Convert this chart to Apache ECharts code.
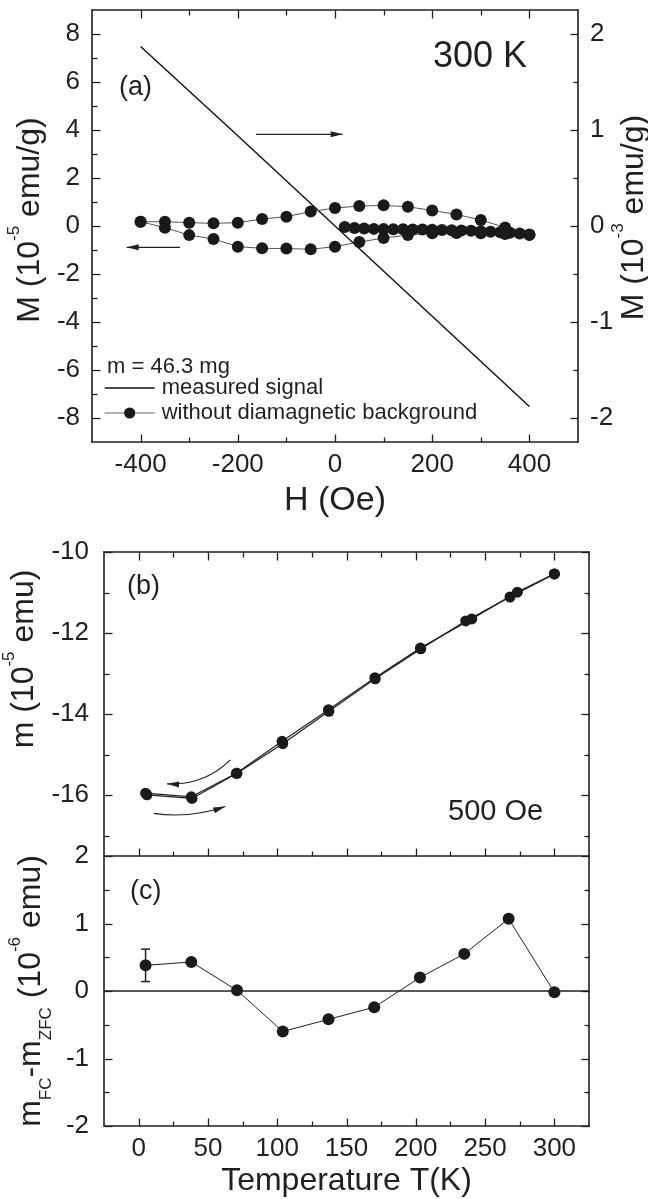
<!DOCTYPE html>
<html><head><meta charset="utf-8">
<script src="https://cdn.jsdelivr.net/npm/echarts@6/dist/echarts.min.js"></script>
<style>html,body{margin:0;padding:0;background:#fff}#c{width:648px;height:1199px}</style>
</head><body><div id="c"></div>
<script>
// ================= DATA =================
// Panel (a) : 300 K loop
const hMeasured = [-400, -200, 0, 200, 400];
const mMeasured = [1.87, 0.94, 0.0, -0.94, -1.88];            // 10^-3 emu/g (right axis)
const hVirgin = [20, 40, 60, 80, 100, 120, 140, 160, 180, 200, 220, 240, 260, 280, 300, 320, 340, 360, 380, 400];
const mVirgin = [-0.04, -0.08, -0.1, -0.12, -0.13, -0.14, -0.14, -0.15, -0.15, -0.16, -0.17, -0.18, -0.19, -0.2, -0.22, -0.24, -0.26, -0.28, -0.31, -0.35];
const hDown = [400, 350, 300, 250, 200, 150, 100, 50, 0, -50, -100, -150, -200, -250, -300, -350, -400];
const mDown = [-0.37, -0.06, 0.25, 0.48, 0.65, 0.8, 0.86, 0.83, 0.75, 0.6, 0.39, 0.29, 0.14, 0.11, 0.14, 0.18, 0.18];
const hUp = [-400, -350, -300, -250, -200, -150, -100, -50, 0, 50, 100, 150, 200, 250, 300, 350, 400];
const mUp = [0.18, -0.07, -0.38, -0.54, -0.86, -0.93, -0.94, -0.97, -0.86, -0.67, -0.5, -0.38, -0.3, -0.29, -0.3, -0.33, -0.37];
const arrowsA = [[-162.6, 3.82, 15.8, 3.82, 0], [-319, -0.89, -428.6, -0.89, 0]];

// Panel (b) : 500 Oe, m(T)
const tZFC = [6, 38.5, 71, 104, 137.3, 170.7, 203.6, 236, 268, 300];
const mZFC = [-15.99, -16.08, -15.46, -14.73, -13.93, -13.13, -12.39, -11.7, -11.11, -10.54];
const tFC = [5, 38, 70.5, 103.5, 137, 170.5, 203.3, 240.4, 273.3, 300];
const mFC = [-15.95, -16.04, -15.46, -14.67, -13.89, -13.1, -12.37, -11.65, -10.99, -10.54];
const arrowsB = [[66.2, -15.13, 20.5, -15.72, 0.22], [10.8, -16.45, 62.5, -16.28, -0.12]];

// Panel (c) : m_FC - m_ZFC
const tDiff = [5, 38, 71, 104, 137, 170, 203, 235, 267, 300];
const mDiff = [0.38, 0.43, 0.01, -0.6, -0.42, -0.24, 0.2, 0.55, 1.07, -0.02];
const errBar = [[5, 0.14, 0.62]];

// Tick values (major = labelled, minor = unlabelled)
const hMajor = [-400, -200, 0, 200, 400];
const hMinor = [-300, -100, 100, 300];
const mLeftMajor = [-8, -6, -4, -2, 0, 2, 4, 6, 8];
const mLeftMinor = [-7, -5, -3, -1, 1, 3, 5, 7];
const mRightMajor = [-2, -1, 0, 1, 2];
const mRightMinor = [-1.5, -0.5, 0.5, 1.5];
const tMajor = [0, 50, 100, 150, 200, 250, 300];
const tMinor = [25, 75, 125, 175, 225, 275];
const bMajor = [-16, -14, -12, -10];
const bMinor = [-17, -15, -13, -11];
const cMajor = [-2, -1, 0, 1, 2];
const cMinor = [-1.5, -0.5, 0.5, 1.5];

// ================= STYLE / BUILD =================
const FONT = '"Liberation Sans", Arial, Helvetica, sans-serif';
const INK = '#231f20';
const zip = (a, b) => a.map((v, i) => [v, b[i]]);
const has = (arr, v) => arr.some(t => Math.abs(t - v) < 1e-9);

const titleRich = {
  a: {fontSize: 32, lineHeight: 48, fontFamily: FONT, color: INK},
  p: {fontSize: 17, lineHeight: 17, verticalAlign: 'top', fontFamily: FONT, color: INK},
  b: {fontSize: 17, lineHeight: 17, verticalAlign: 'bottom', fontFamily: FONT, color: INK}
};

// value axis: data scale + axis line + labels + name; ticks are drawn by the tick series below
function valueAxis(grid, pos, min, max, step, labelVals, o) {
  o = o || {};
  const ax = {
    type: 'value', gridIndex: grid, position: pos, min: min, max: max, interval: step,
    axisLine: {show: true, onZero: false, lineStyle: {color: INK, width: 1.6}},
    axisTick: {show: false},
    axisLabel: {show: !!labelVals, fontSize: 26, fontFamily: FONT, color: INK, margin: o.margin || 11,
      showMinLabel: true, showMaxLabel: true,
      formatter: v => (labelVals && has(labelVals, v)) ? String(Math.round(v * 100) / 100) : ''},
    splitLine: {show: false}, axisPointer: {show: false}, silent: true
  };
  if (o.name) {
    ax.name = o.name; ax.nameLocation = 'middle'; ax.nameGap = o.nameGap;
    if (o.rotate) ax.nameRotate = 90;
    ax.nameTextStyle = o.nameStyle;
    if (o.noMove) ax.nameMoveOverlap = false;
  }
  return ax;
}

const xAxes = [
  valueAxis(0, 'bottom', -500, 500, 100, hMajor, {margin: 10, name: 'H (Oe)', nameGap: 42,
    nameStyle: {fontSize: 34, fontFamily: FONT, color: INK}}),                 // 0  (a) bottom
  valueAxis(0, 'top', -500, 500, 100, null),                                   // 1  (a) top
  valueAxis(1, 'bottom', -25, 325, 25, null),                                  // 2  (b) bottom
  valueAxis(1, 'top', -25, 325, 25, null),                                     // 3  (b) top
  valueAxis(2, 'bottom', -25, 325, 25, tMajor, {margin: 10, name: 'Temperature T(K)', nameGap: 39,
    nameStyle: {fontSize: 32, fontFamily: FONT, color: INK}})                  // 4  (c) bottom
];
const yAxes = [
  valueAxis(0, 'left', -9, 9, 1, mLeftMajor, {margin: 12, name: '{a|M (10}{p|-5}{a| emu/g)}', nameGap: 35, rotate: true,
    nameStyle: {rich: titleRich, padding: [0, 0, 0, 12]}}),                   // 0  (a) left
  valueAxis(0, 'right', -2.25, 2.25, 0.25, mRightMajor, {margin: 12, name: '{a|M (10}{p|-3}{a| emu/g)}', nameGap: 32, rotate: true,
    noMove: true, nameStyle: {rich: titleRich, padding: [0, 0, 0, 17]}}),     // 1  (a) right
  valueAxis(1, 'left', -17.5, -10, 0.5, bMajor, {margin: 15, name: '{a|m (10}{p|-5}{a| emu)}', nameGap: 47, rotate: true,
    nameStyle: {rich: titleRich, padding: [0, 0, 0, 90]}}),                   // 2  (b) left
  valueAxis(1, 'right', -17.5, -10, 0.5, null),                                // 3  (b) right
  valueAxis(2, 'left', -2, 2, 0.5, cMajor, {margin: 15, name: '{a|m}{b|FC}{a|-m}{b|ZFC}{a| (10}{p|-6}{a| emu)}', nameGap: 47, rotate: true,
    nameStyle: {rich: titleRich}}),                                            // 4  (c) left
  valueAxis(2, 'right', -2, 2, 0.5, null)                                      // 5  (c) right
];

// ---- inward tick marks, placed through the axes' own scales ----
const MJ = 8, MN = 5;
// orientation: 0 = on bottom edge (points up), 1 = top edge (down), 2 = left edge (right), 3 = right edge (left)
function xTicks(vals, yEdge, len, o) { return vals.map(v => [v, yEdge, len, o]); }
function yTicks(vals, xEdge, len, o) { return vals.map(v => [xEdge, v, len, o]); }
const DIRS = [[0, -1], [0, 1], [1, 0], [-1, 0]];
function tickRender(params, api) {
  const p = api.coord([api.value(0), api.value(1)]);
  const len = api.value(2), d = DIRS[api.value(3)];
  const x = Math.round(p[0]) + 0.5, y = Math.round(p[1]) + 0.5;
  return {type: 'line', shape: {x1: x, y1: y, x2: x + d[0] * len, y2: y + d[1] * len},
    style: {stroke: INK, lineWidth: 1.3}};
}
function tickSeries(xi, yi, data) {
  return {type: 'custom', xAxisIndex: xi, yAxisIndex: yi, data: data, renderItem: tickRender, clip: false,
    silent: true, z: 1, encode: {x: 0, y: 1}};
}
const ticksA = [].concat(
  xTicks(hMajor, -9, MJ, 0), xTicks(hMinor, -9, MN, 0),
  xTicks(hMajor, 9, MJ, 1), xTicks(hMinor, 9, MN, 1),
  yTicks(mLeftMajor, -500, MJ, 2), yTicks(mLeftMinor, -500, MN, 2));
const ticksAR = [].concat(yTicks(mRightMajor, 500, MJ, 3), yTicks(mRightMinor, 500, MN, 3));
const ticksB = [].concat(
  xTicks(tMajor, -17.5, MJ, 0), xTicks(tMinor, -17.5, MN, 0),
  xTicks(tMajor, -10, MJ, 1), xTicks(tMinor, -10, MN, 1),
  yTicks(bMajor, -25, MJ, 2), yTicks(bMinor, -25, MN, 2),
  yTicks(bMajor, 325, MJ, 3), yTicks(bMinor, 325, MN, 3));
const ticksC = [].concat(
  xTicks(tMajor, -2, MJ, 0), xTicks(tMinor, -2, MN, 0),
  yTicks(cMajor, -25, MJ, 2), yTicks(cMinor, -25, MN, 2),
  yTicks(cMajor, 325, MJ, 3), yTicks(cMinor, 325, MN, 3));

function arrowRender(params, api) {
  const p1 = api.coord([api.value(0), api.value(1)]);
  const p2 = api.coord([api.value(2), api.value(3)]);
  const c = api.value(4);
  let tx = p2[0] - p1[0], ty = p2[1] - p1[1];
  const children = [];
  const st = {stroke: INK, lineWidth: 1.2, fill: 'none'};
  if (c) {
    const cp = [(p1[0] + p2[0]) / 2 - (p1[1] - p2[1]) * c, (p1[1] + p2[1]) / 2 - (p2[0] - p1[0]) * c];
    tx = p2[0] - cp[0]; ty = p2[1] - cp[1];
    children.push({type: 'bezierCurve', shape: {x1: p1[0], y1: p1[1], x2: p2[0], y2: p2[1], cpx1: cp[0], cpy1: cp[1]}, style: st});
  } else {
    children.push({type: 'line', shape: {x1: p1[0], y1: p1[1], x2: p2[0], y2: p2[1]}, style: st});
  }
  const L = Math.hypot(tx, ty) || 1, ux = tx / L, uy = ty / L;
  const len = 12, hw = 3;
  const bx = p2[0] - ux * len, by = p2[1] - uy * len;
  children.push({type: 'polygon', shape: {points: [[p2[0], p2[1]], [bx - uy * hw, by + ux * hw], [bx + uy * hw, by - ux * hw]]},
    style: {fill: INK, stroke: 'none'}});
  return {type: 'group', children: children};
}
function errRender(params, api) {
  const x = api.value(0);
  const lo = api.coord([x, api.value(1)]), hi = api.coord([x, api.value(2)]);
  const w = 4.5, st = {stroke: INK, lineWidth: 1.5};
  return {type: 'group', children: [
    {type: 'line', shape: {x1: lo[0], y1: lo[1], x2: hi[0], y2: hi[1]}, style: st},
    {type: 'line', shape: {x1: lo[0] - w, y1: lo[1], x2: lo[0] + w, y2: lo[1]}, style: st},
    {type: 'line', shape: {x1: hi[0] - w, y1: hi[1], x2: hi[0] + w, y2: hi[1]}, style: st}
  ]};
}

const dotStyle = {color: '#1a1a1a'};
const option = {
  animation: false,
  backgroundColor: '#fff',
  grid: [
    {left: 92, top: 10, width: 486, height: 432, outerBoundsMode: 'none'},
    {left: 104, top: 552, width: 485, height: 304, outerBoundsMode: 'none'},
    {left: 104, top: 856, width: 485, height: 270, outerBoundsMode: 'none'}
  ],
  xAxis: xAxes,
  yAxis: yAxes,
  legend: {
    data: [
      {name: 'measured signal', itemStyle: {color: 'rgba(0,0,0,0)', borderWidth: 0}, lineStyle: {width: 1.3, color: '#111'}},
      {name: 'without diamagnetic background', lineStyle: {width: 1, color: '#666'}}
    ],
    orient: 'vertical', left: 104, top: 377, itemWidth: 50, itemHeight: 14, itemGap: 3, padding: 0,
    selectedMode: false,
    textStyle: {fontSize: 22, lineHeight: 22, fontFamily: FONT, color: INK, padding: [0, 0, 0, 2]}
  },
  graphic: [
    {type: 'text', x: 119, y: 88, style: {text: '(a)', fontSize: 27, fontFamily: FONT, fill: INK, verticalAlign: 'middle'}},
    {type: 'text', x: 433, y: 57, style: {text: '300 K', fontSize: 36, fontFamily: FONT, fill: INK, verticalAlign: 'middle'}},
    {type: 'text', x: 107, y: 367, style: {text: 'm = 46.3 mg', fontSize: 22, fontFamily: FONT, fill: INK, verticalAlign: 'middle'}},
    {type: 'text', x: 127, y: 587, style: {text: '(b)', fontSize: 27, fontFamily: FONT, fill: INK, verticalAlign: 'middle'}},
    {type: 'text', x: 448, y: 812, style: {text: '500 Oe', fontSize: 29, fontFamily: FONT, fill: INK, verticalAlign: 'middle'}},
    {type: 'text', x: 130, y: 892, style: {text: '(c)', fontSize: 27, fontFamily: FONT, fill: INK, verticalAlign: 'middle'}}
  ],
  series: [
    tickSeries(0, 0, ticksA),
    tickSeries(0, 1, ticksAR),
    tickSeries(2, 2, ticksB),
    tickSeries(4, 4, ticksC),
    {name: 'measured signal', type: 'line', xAxisIndex: 0, yAxisIndex: 1, data: zip(hMeasured, mMeasured),
      symbol: 'none', lineStyle: {color: '#111', width: 1.4}, itemStyle: {color: '#111'}, silent: true, z: 3},
    {name: 'without diamagnetic background', type: 'line', xAxisIndex: 0, yAxisIndex: 0,
      data: zip(hVirgin, mVirgin).concat(zip(hDown, mDown), zip(hUp, mUp)),
      symbol: 'circle', symbolSize: 12, itemStyle: dotStyle, lineStyle: {color: '#555', width: 1}, silent: true, z: 4},
    {type: 'custom', xAxisIndex: 0, yAxisIndex: 0, data: arrowsA, renderItem: arrowRender, clip: false, silent: true,
      encode: {x: [0, 2], y: [1, 3]}},
    {name: 'ZFC', type: 'line', xAxisIndex: 2, yAxisIndex: 2, data: zip(tZFC, mZFC),
      symbol: 'circle', symbolSize: 11, itemStyle: dotStyle, lineStyle: {color: INK, width: 1.2}, silent: true},
    {name: 'FC', type: 'line', xAxisIndex: 2, yAxisIndex: 2, data: zip(tFC, mFC),
      symbol: 'circle', symbolSize: 11, itemStyle: dotStyle, lineStyle: {color: INK, width: 1.2}, silent: true},
    {type: 'custom', xAxisIndex: 2, yAxisIndex: 2, data: arrowsB, renderItem: arrowRender, clip: false, silent: true,
      encode: {x: [0, 2], y: [1, 3]}},
    {name: 'diff', type: 'line', xAxisIndex: 4, yAxisIndex: 4, data: zip(tDiff, mDiff),
      symbol: 'circle', symbolSize: 12, itemStyle: dotStyle, lineStyle: {color: INK, width: 1}, silent: true, z: 4,
      markLine: {silent: true, symbol: ['none', 'none'], label: {show: false}, lineStyle: {color: INK, width: 1.6, type: 'solid'},
        data: [{yAxis: 0}]}},
    {type: 'custom', xAxisIndex: 4, yAxisIndex: 4, data: errBar, renderItem: errRender, clip: false, silent: true,
      encode: {x: 0, y: [1, 2]}}
  ]
};
const chart = echarts.init(document.getElementById('c'), null, {renderer: 'canvas'});
chart.setOption(option);
</script></body></html>
